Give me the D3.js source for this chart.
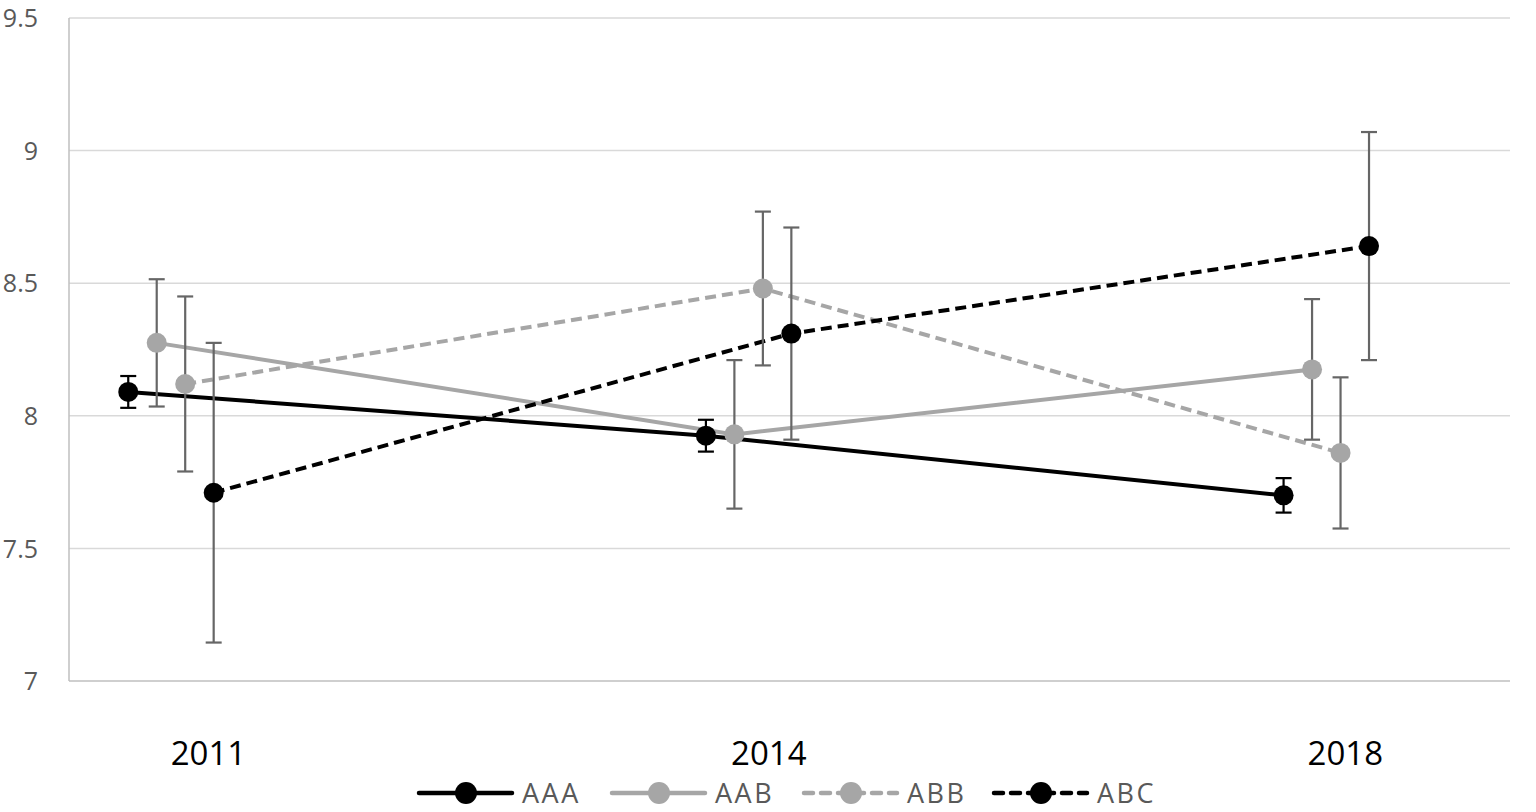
<!DOCTYPE html>
<html><head><meta charset="utf-8">
<script src="https://cdn.jsdelivr.net/npm/d3@7"></script>
<style>html,body{margin:0;padding:0;background:#fff;}svg{display:block;}</style>
</head><body>
<svg id="c" width="1536" height="812"></svg>
<script>
const years = ["2011", "2014", "2018"];
const seriesNames = ["AAA", "AAB", "ABB", "ABC"];
const AAA = [8.09, 7.925, 7.70];
const AAB = [8.275, 7.93, 8.175];
const ABB = [8.12, 8.48, 7.86];
const ABC = [7.71, 8.31, 8.64];
const AAA_err = [0.06, 0.06, 0.065];
const AAB_err = [0.24, 0.28, 0.265];
const ABB_err = [0.33, 0.29, 0.285];
const ABC_err = [0.565, 0.40, 0.43];
const yTicks = [7, 7.5, 8, 8.5, 9, 9.5];

const values = [AAA, AAB, ABB, ABC];
const errs = [AAA_err, AAB_err, ABB_err, ABC_err];
const styles = [
  {color:"#000", dash:null, errColor:"#000"},
  {color:"#a6a6a6", dash:null, errColor:"#666"},
  {color:"#a6a6a6", dash:"11,6", errColor:"#666"},
  {color:"#000", dash:"11,6", errColor:"#666"}
];
const offsets = [-1.5, -0.5, 0.5, 1.5];
const labelShift = [0.065, 0.035, 0.033];

const svg = d3.select("#c");
const x = d3.scaleLinear().domain([-0.1765, 2.318]).range([69, 1510]);
const y = d3.scaleLinear().domain([7, 9.5]).range([681, 18]);
const step = 0.0493;

// gridlines
svg.append("g").selectAll("line").data(yTicks.filter(d => d > 7)).join("line")
  .attr("x1", 69).attr("x2", 1510).attr("y1", d => y(d)).attr("y2", d => y(d))
  .attr("stroke", "#d9d9d9").attr("stroke-width", 1.5);
// axes lines
svg.append("line").attr("x1", 69).attr("x2", 69).attr("y1", y(9.5)).attr("y2", y(7))
  .attr("stroke", "#bfbfbf").attr("stroke-width", 1.5);
svg.append("line").attr("x1", 69).attr("x2", 1510).attr("y1", y(7)).attr("y2", y(7))
  .attr("stroke", "#bfbfbf").attr("stroke-width", 1.5);

const yAxis = d3.axisLeft(y).tickValues(yTicks).tickSize(0).tickPadding(0).tickFormat(d3.format("~g"));
const ga = svg.append("g").attr("transform", "translate(38,0)").call(yAxis);
ga.select(".domain").remove();
ga.selectAll("text").attr("font-family", "'Open Sans', 'DejaVu Sans', sans-serif")
  .attr("font-size", 25).attr("fill", "#595959").attr("dy", "0.35em");

// year labels
svg.append("g").selectAll("text").data(years).join("text")
  .attr("x", (d, i) => x(i + labelShift[i])).attr("y", 765)
  .attr("text-anchor", "middle")
  .attr("font-family", "'Open Sans', Arial, sans-serif").attr("font-size", 33)
  .attr("fill", "#000").text(d => d);

const line = d3.line();
values.forEach((vals, s) => {
  const st = styles[s];
  const pts = vals.map((v, i) => [x(i + offsets[s] * step), y(v)]);
  svg.append("path").attr("d", line(pts)).attr("fill", "none")
    .attr("stroke", st.color).attr("stroke-width", 4)
    .attr("stroke-dasharray", st.dash);
});
values.forEach((vals, s) => {
  const st = styles[s];
  const g = svg.append("g");
  vals.forEach((v, i) => {
    const cx = x(i + offsets[s] * step);
    const lo = y(v - errs[s][i]), hi = y(v + errs[s][i]);
    g.append("line").attr("x1", cx).attr("x2", cx).attr("y1", lo).attr("y2", hi)
      .attr("stroke", st.errColor).attr("stroke-width", 2.2);
    [lo, hi].forEach(yy => g.append("line").attr("x1", cx - 8).attr("x2", cx + 8)
      .attr("y1", yy).attr("y2", yy).attr("stroke", st.errColor).attr("stroke-width", 2.2));
  });
  g.selectAll("circle").data(vals).join("circle")
    .attr("cx", (v, i) => x(i + offsets[s] * step)).attr("cy", v => y(v))
    .attr("r", 10).attr("fill", st.color);
});

// legend
const legX = [419, 612, 804, 994];
const lg = svg.append("g");
seriesNames.forEach((name, s) => {
  const st = styles[s];
  const x0 = legX[s], ly = 793;
  lg.append("line").attr("x1", x0).attr("x2", x0 + 93).attr("y1", ly).attr("y2", ly)
    .attr("stroke", st.color).attr("stroke-width", 4.5)
    .attr("stroke-linecap", "round")
    .attr("stroke-dasharray", st.dash ? "9,8" : null);
  lg.append("circle").attr("cx", x0 + 47).attr("cy", ly).attr("r", 11).attr("fill", st.color);
  lg.append("text").attr("x", x0 + 103).attr("y", ly + 9.5)
    .attr("font-family", "'Liberation Sans Narrow', 'Open Sans', sans-serif").attr("font-size", 27)
    .attr("letter-spacing", 2.5)
    .attr("fill", "#595959").text(name);
});
</script>
</body></html>
